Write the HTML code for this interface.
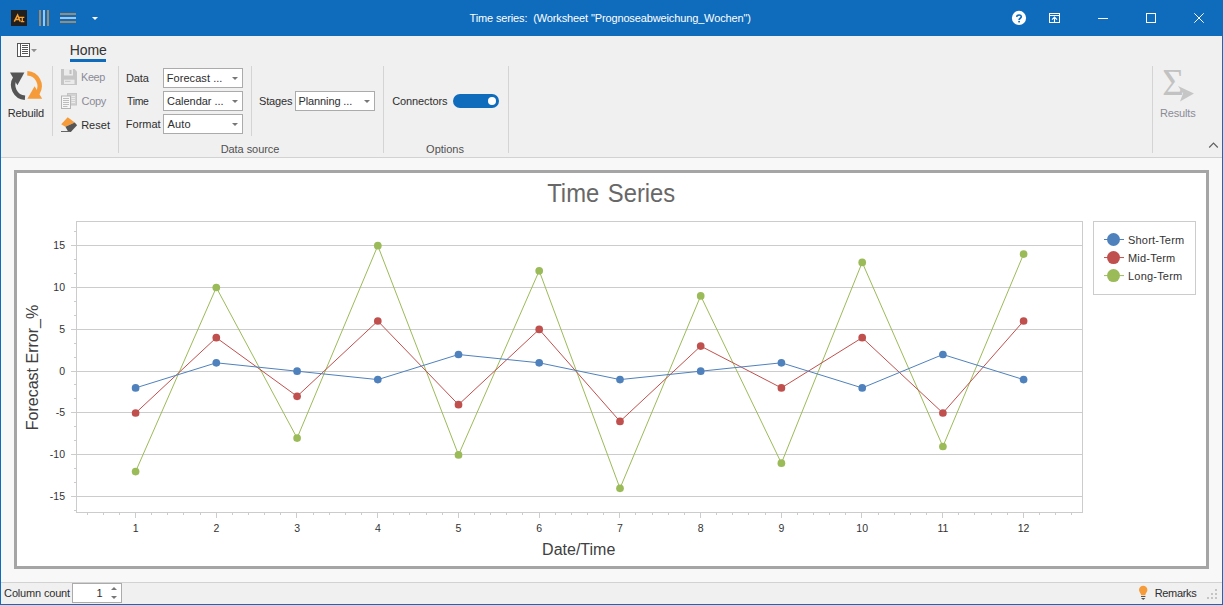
<!DOCTYPE html>
<html><head><meta charset="utf-8"><title>Time series</title>
<style>
html,body{margin:0;padding:0;}
body{width:1223px;height:605px;overflow:hidden;background:#f8f8f8;font-family:"Liberation Sans",sans-serif;font-size:11px;color:#2e2e2e;position:relative;}
.abs{position:absolute;}
.t{position:absolute;white-space:nowrap;line-height:13px;}
.sep{position:absolute;width:1px;background:#d4d4d4;}
.combo{position:absolute;height:18px;width:78px;border:1px solid #ababab;background:#fff;}
.combo span{position:absolute;left:4px;top:3px;line-height:13px;white-space:nowrap;}
.combo i{position:absolute;right:4px;top:8px;width:0;height:0;border-left:3px solid transparent;border-right:3px solid transparent;border-top:3px solid #777;}
svg text{font-family:"Liberation Sans",sans-serif;}
.tk{font-size:10.5px;fill:#333;}
.lg{font-size:11px;fill:#333;letter-spacing:0.2px;}
.ttl{font-size:23.8px;fill:#686868;}
.ax{font-size:16px;fill:#404040;}
.dis{color:#8b8b98;}
</style></head><body>
<!-- title bar -->
<div class="abs" style="left:0;top:0;width:1223px;height:36px;background:#0f6cbd;"></div>
<!-- window borders -->
<div class="abs" style="left:0;top:0;width:1px;height:605px;background:#0f6cbd;"></div>
<div class="abs" style="left:1222px;top:0;width:1px;height:605px;background:#0f6cbd;"></div>
<div class="abs" style="left:0;top:604px;width:1223px;height:1px;background:#0f6cbd;"></div>
<!-- ribbon bg -->
<div class="abs" style="left:1px;top:36px;width:1221px;height:121px;background:#f0f0f0;"></div>
<div class="abs" style="left:1px;top:157px;width:1221px;height:1px;background:#d2d2d2;"></div>
<!-- status bar -->
<div class="abs" style="left:1px;top:582px;width:1221px;height:1px;background:#d2d2d2;"></div>
<div class="abs" style="left:1px;top:583px;width:1221px;height:21px;background:#f0f0f0;"></div>

<!-- title bar content -->
<div class="abs" style="left:11px;top:10px;width:16px;height:16px;background:#22201e;"></div>
<svg class="abs" style="left:11px;top:10px" width="16" height="16" viewBox="11 10 16 16"><path d="M14.3 21.6 L17.6 15 L20.2 21.6 M15.6 19.4 L19.4 19.4" stroke="#f5a030" stroke-width="1.5" fill="none"/><path d="M19 17.4 H24.3 M22.3 17.4 V21.6 M20.8 21.6 H24.3" stroke="#f5a030" stroke-width="1.3" fill="none"/></svg>
<div class="abs" style="left:39px;top:10px;width:2px;height:16px;background:#988c74;"></div>
<div class="abs" style="left:43px;top:10px;width:2px;height:16px;background:#9fc5ea;"></div>
<div class="abs" style="left:47px;top:10px;width:2px;height:16px;background:#988c74;"></div>
<div class="abs" style="left:60px;top:13px;width:16px;height:2px;background:#988c74;"></div>
<div class="abs" style="left:60px;top:17px;width:16px;height:2px;background:#9fc5ea;"></div>
<div class="abs" style="left:60px;top:21px;width:16px;height:2px;background:#988c74;"></div>
<div class="abs" style="left:92px;top:17px;width:0;height:0;border-left:3.5px solid transparent;border-right:3.5px solid transparent;border-top:3.5px solid #fff;"></div>
<div class="t" id="wtitle" style="letter-spacing:-0.130px;margin-left:-0.55px;left:470px;top:12px;color:#fff;white-space:pre;">Time series:  (Worksheet "Prognoseabweichung_Wochen")</div>
<!-- window buttons -->
<svg class="abs" style="left:1005px;top:4px" width="210" height="28" viewBox="1005 4 210 28">
<circle cx="1019" cy="17.9" r="7.1" fill="#fff"/>
<path d="M1016.9 16.9 C1016.7 14.5 1021.3 14.3 1021.3 16.8 C1021.3 18.3 1019.1 18.3 1019.1 20.1" fill="none" stroke="#0f6cbd" stroke-width="1.7"/><rect x="1018.2" y="20.9" width="1.8" height="1.5" fill="#0f6cbd"/>
<rect x="1049.5" y="13.5" width="10" height="9" fill="none" stroke="#fff"/>
<rect x="1050" y="15" width="9" height="1" fill="#fff"/>
<path d="M1054.5 22 V17.3 M1052 19.6 L1054.5 17.1 L1057 19.6" stroke="#fff" fill="none" stroke-width="1.1"/>
<rect x="1098" y="18" width="10" height="1" fill="#fff"/>
<rect x="1146.5" y="13.5" width="9" height="9" fill="none" stroke="#fff"/>
<path d="M1194.3 13.3 L1203.7 22.7 M1203.7 13.3 L1194.3 22.7" stroke="#fff" stroke-width="1"/>
</svg>

<!-- ribbon tab row -->
<svg class="abs" style="left:16px;top:42px" width="24" height="16" viewBox="16 42 24 16">
<rect x="17.5" y="43.5" width="12" height="13" fill="#fff" stroke="#555"/>
<rect x="20" y="44" width="1" height="12" fill="#555"/>
<path d="M22 45.5 H28 M22 47.5 H28 M22 49.5 H28 M22 51.5 H28 M22 53.5 H28" stroke="#555" stroke-width="1"/>
<path d="M31 49 L37 49 L34 52.2 Z" fill="#909090"/>
</svg>
<div class="t" id="home" style="letter-spacing:-0.100px;margin-left:-0.30px;left:70px;top:42px;font-size:14px;line-height:17px;color:#333;">Home</div>
<div class="abs" style="left:70px;top:59px;width:36px;height:3px;background:#0f6cbd;"></div>

<!-- Rebuild -->
<svg class="abs" style="left:9px;top:69px" width="34" height="34" viewBox="9 69 34 34">
<path d="M25 97.8 A12.9 12.9 0 0 1 15.2 78" fill="none" stroke="#555" stroke-width="4.4"/>
<path d="M10 72.5 L24.4 72.5 L17.4 85.2 Z" fill="#555"/>
<path d="M27.3 73.2 A12.9 12.9 0 0 1 37.6 93" fill="none" stroke="#f59b3a" stroke-width="4.4"/>
<path d="M27.4 98.8 L42.2 98.8 L34.6 86.2 Z" fill="#f59b3a"/>
</svg>
<div class="t" id="rebuild" style="letter-spacing:-0.175px;margin-left:-1.18px;left:9px;top:107px;">Rebuild</div>
<div class="sep" style="left:52px;top:66px;height:70px;"></div>

<!-- Keep / Copy / Reset -->
<svg class="abs" style="left:61px;top:69px" width="16" height="16" viewBox="0 0 16 16">
<path d="M0 0 H13.5 L16 2.5 V16 H0 Z" fill="#c6c6c6"/>
<rect x="3" y="0" width="9" height="6.5" fill="#ebebeb"/>
<rect x="8.5" y="1" width="2" height="4" fill="#c0c0c0"/>
<rect x="3" y="10.7" width="10.5" height="4.3" fill="#ebebeb"/>
<rect x="4" y="11.8" width="5.5" height="1" fill="#c6c6c6"/>
</svg>
<div class="t dis" id="keep" style="letter-spacing:-0.350px;margin-left:-0.88px;transform:scaleX(0.9861);transform-origin:0 0;left:82px;top:71px;">Keep</div>
<svg class="abs" style="left:61px;top:93px" width="16" height="17" viewBox="0 0 16 17">
<rect x="6.5" y="0.5" width="9" height="11.5" fill="#d2d2d2" stroke="#c6c6c6"/>
<path d="M10.5 3.5H14M10.5 5.5H14M10.5 7.5H14M10.5 9.5H14" stroke="#ececec"/>
<rect x="0.5" y="3" width="9" height="12.5" fill="#f6f6f6" stroke="#b4b4b4"/>
<path d="M2 5.5H8M2 7.5H8M2 9.5H8M2 11.5H8M2 13.5H6.5" stroke="#bcbcbc"/>
</svg>
<div class="t dis" id="copy" style="letter-spacing:-0.308px;margin-left:-0.50px;left:82px;top:95px;">Copy</div>
<svg class="abs" style="left:60px;top:116px" width="18" height="18" viewBox="60 116 18 18">
<path d="M67.7 117.2 L74.8 122.4 L65.4 126.8 L61.2 124.2 Z" fill="#f59b3a"/>
<path d="M65.4 126.8 L74.8 122.4 L77.1 125.3 L70.8 131.9 L68.4 131.9 Z" fill="#555"/>
<rect x="61" y="131" width="9.5" height="1" fill="#666"/>
</svg>
<div class="t" id="reset" style="letter-spacing:0.031px;margin-left:-0.88px;left:82px;top:119px;">Reset</div>
<div class="sep" style="left:118px;top:66px;height:87px;"></div>

<!-- Data source -->
<div class="t" id="ldata" style="letter-spacing:-0.092px;margin-left:-1.08px;left:127px;top:72px;">Data</div>
<div class="t" id="ltime" style="letter-spacing:-0.350px;margin-left:-0.35px;transform:scaleX(0.9496);transform-origin:0 0;left:127px;top:95px;">Time</div>
<div class="t" id="lformat" style="letter-spacing:-0.015px;margin-left:-1.17px;left:127px;top:118px;">Format</div>
<div class="combo" style="left:163px;top:68px;"><span id="c1" style="letter-spacing:0.061px;margin-left:-1.28px;">Forecast ...</span><i></i></div>
<div class="combo" style="left:163px;top:91px;"><span id="c2" style="letter-spacing:-0.034px;margin-left:-0.90px;">Calendar ...</span><i></i></div>
<div class="combo" style="left:163px;top:114px;"><span id="c3" style="letter-spacing:0.117px;margin-left:-0.40px;">Auto</span><i></i></div>
<div class="sep" style="left:251px;top:66px;height:70px;"></div>
<div class="t" id="lstages" style="letter-spacing:-0.135px;margin-left:-1.00px;left:260px;top:95px;">Stages</div>
<div class="combo" style="left:295px;top:91px;"><span id="c4" style="letter-spacing:-0.120px;margin-left:-1.48px;">Planning ...</span><i></i></div>
<div class="t" id="gds" style="letter-spacing:-0.050px;margin-left:-0.88px;left:221.5px;top:143px;color:#505050;">Data source</div>
<div class="sep" style="left:383px;top:66px;height:87px;"></div>

<!-- Options -->
<div class="t" id="lconn" style="letter-spacing:-0.108px;margin-left:-0.80px;left:393px;top:95px;">Connectors</div>
<div class="abs" style="left:453px;top:94px;width:46px;height:14px;border-radius:7px;background:#0f6cbd;"></div>
<div class="abs" style="left:488px;top:97px;width:8px;height:8px;border-radius:4px;background:#fff;"></div>
<div class="t" id="gopt" style="letter-spacing:-0.017px;margin-left:-0.90px;left:427px;top:143px;color:#505050;">Options</div>
<div class="sep" style="left:508px;top:66px;height:87px;"></div>

<!-- Results -->
<div class="sep" style="left:1152px;top:66px;height:87px;"></div>
<svg class="abs" style="left:1160px;top:68px" width="36" height="36" viewBox="1160 68 36 36">
<text x="1162.3" y="95" font-family="Liberation Serif" font-size="37.5" fill="#c2c2c2" style="font-family:'Liberation Serif',serif">&#931;</text>
<path d="M1178 86 L1194 93.5 L1180 101.5 L1183 93.5 Z" fill="#c6c6c6"/>
</svg>
<div class="t dis" id="results" style="letter-spacing:-0.162px;margin-left:-1.08px;left:1161px;top:107px;">Results</div>
<svg class="abs" style="left:1208px;top:141px" width="11" height="8" viewBox="0 0 11 8"><path d="M1.2 6.5 L5.5 2.2 L9.8 6.5" stroke="#606060" stroke-width="1.2" fill="none"/></svg>

<!-- chart panel -->
<div class="abs" style="left:14px;top:170px;width:1189px;height:393px;border:3px solid #a5a5a5;background:#fff;"></div>
<svg class="abs" style="left:0;top:0" width="1223" height="605" viewBox="0 0 1223 605">
<rect x="76.5" y="221.5" width="1006" height="291" fill="#fff" stroke="#cccccc" stroke-width="1"/>
<line x1="71" y1="496.5" x2="1082" y2="496.5" stroke="#cccccc" stroke-width="1"/>
<line x1="71" y1="454.5" x2="1082" y2="454.5" stroke="#cccccc" stroke-width="1"/>
<line x1="71" y1="412.5" x2="1082" y2="412.5" stroke="#cccccc" stroke-width="1"/>
<line x1="71" y1="371.5" x2="1082" y2="371.5" stroke="#cccccc" stroke-width="1"/>
<line x1="71" y1="329.5" x2="1082" y2="329.5" stroke="#cccccc" stroke-width="1"/>
<line x1="71" y1="287.5" x2="1082" y2="287.5" stroke="#cccccc" stroke-width="1"/>
<line x1="71" y1="245.5" x2="1082" y2="245.5" stroke="#cccccc" stroke-width="1"/>
<line x1="74" y1="510.5" x2="76" y2="510.5" stroke="#cccccc" stroke-width="1"/>
<line x1="74" y1="482.5" x2="76" y2="482.5" stroke="#cccccc" stroke-width="1"/>
<line x1="74" y1="468.5" x2="76" y2="468.5" stroke="#cccccc" stroke-width="1"/>
<line x1="74" y1="440.5" x2="76" y2="440.5" stroke="#cccccc" stroke-width="1"/>
<line x1="74" y1="426.5" x2="76" y2="426.5" stroke="#cccccc" stroke-width="1"/>
<line x1="74" y1="398.5" x2="76" y2="398.5" stroke="#cccccc" stroke-width="1"/>
<line x1="74" y1="384.5" x2="76" y2="384.5" stroke="#cccccc" stroke-width="1"/>
<line x1="74" y1="357.5" x2="76" y2="357.5" stroke="#cccccc" stroke-width="1"/>
<line x1="74" y1="343.5" x2="76" y2="343.5" stroke="#cccccc" stroke-width="1"/>
<line x1="74" y1="315.5" x2="76" y2="315.5" stroke="#cccccc" stroke-width="1"/>
<line x1="74" y1="301.5" x2="76" y2="301.5" stroke="#cccccc" stroke-width="1"/>
<line x1="74" y1="273.5" x2="76" y2="273.5" stroke="#cccccc" stroke-width="1"/>
<line x1="74" y1="259.5" x2="76" y2="259.5" stroke="#cccccc" stroke-width="1"/>
<line x1="74" y1="231.5" x2="76" y2="231.5" stroke="#cccccc" stroke-width="1"/>
<line x1="135.5" y1="513" x2="135.5" y2="518" stroke="#cccccc" stroke-width="1"/>
<line x1="216.5" y1="513" x2="216.5" y2="518" stroke="#cccccc" stroke-width="1"/>
<line x1="296.5" y1="513" x2="296.5" y2="518" stroke="#cccccc" stroke-width="1"/>
<line x1="377.5" y1="513" x2="377.5" y2="518" stroke="#cccccc" stroke-width="1"/>
<line x1="458.5" y1="513" x2="458.5" y2="518" stroke="#cccccc" stroke-width="1"/>
<line x1="539.5" y1="513" x2="539.5" y2="518" stroke="#cccccc" stroke-width="1"/>
<line x1="619.5" y1="513" x2="619.5" y2="518" stroke="#cccccc" stroke-width="1"/>
<line x1="700.5" y1="513" x2="700.5" y2="518" stroke="#cccccc" stroke-width="1"/>
<line x1="781.5" y1="513" x2="781.5" y2="518" stroke="#cccccc" stroke-width="1"/>
<line x1="861.5" y1="513" x2="861.5" y2="518" stroke="#cccccc" stroke-width="1"/>
<line x1="942.5" y1="513" x2="942.5" y2="518" stroke="#cccccc" stroke-width="1"/>
<line x1="1023.5" y1="513" x2="1023.5" y2="518" stroke="#cccccc" stroke-width="1"/>
<line x1="87.5" y1="513" x2="87.5" y2="515" stroke="#cccccc" stroke-width="1"/>
<line x1="103.5" y1="513" x2="103.5" y2="515" stroke="#cccccc" stroke-width="1"/>
<line x1="119.5" y1="513" x2="119.5" y2="515" stroke="#cccccc" stroke-width="1"/>
<line x1="151.5" y1="513" x2="151.5" y2="515" stroke="#cccccc" stroke-width="1"/>
<line x1="167.5" y1="513" x2="167.5" y2="515" stroke="#cccccc" stroke-width="1"/>
<line x1="183.5" y1="513" x2="183.5" y2="515" stroke="#cccccc" stroke-width="1"/>
<line x1="200.5" y1="513" x2="200.5" y2="515" stroke="#cccccc" stroke-width="1"/>
<line x1="232.5" y1="513" x2="232.5" y2="515" stroke="#cccccc" stroke-width="1"/>
<line x1="248.5" y1="513" x2="248.5" y2="515" stroke="#cccccc" stroke-width="1"/>
<line x1="264.5" y1="513" x2="264.5" y2="515" stroke="#cccccc" stroke-width="1"/>
<line x1="280.5" y1="513" x2="280.5" y2="515" stroke="#cccccc" stroke-width="1"/>
<line x1="313.5" y1="513" x2="313.5" y2="515" stroke="#cccccc" stroke-width="1"/>
<line x1="329.5" y1="513" x2="329.5" y2="515" stroke="#cccccc" stroke-width="1"/>
<line x1="345.5" y1="513" x2="345.5" y2="515" stroke="#cccccc" stroke-width="1"/>
<line x1="361.5" y1="513" x2="361.5" y2="515" stroke="#cccccc" stroke-width="1"/>
<line x1="393.5" y1="513" x2="393.5" y2="515" stroke="#cccccc" stroke-width="1"/>
<line x1="409.5" y1="513" x2="409.5" y2="515" stroke="#cccccc" stroke-width="1"/>
<line x1="426.5" y1="513" x2="426.5" y2="515" stroke="#cccccc" stroke-width="1"/>
<line x1="442.5" y1="513" x2="442.5" y2="515" stroke="#cccccc" stroke-width="1"/>
<line x1="474.5" y1="513" x2="474.5" y2="515" stroke="#cccccc" stroke-width="1"/>
<line x1="490.5" y1="513" x2="490.5" y2="515" stroke="#cccccc" stroke-width="1"/>
<line x1="506.5" y1="513" x2="506.5" y2="515" stroke="#cccccc" stroke-width="1"/>
<line x1="522.5" y1="513" x2="522.5" y2="515" stroke="#cccccc" stroke-width="1"/>
<line x1="555.5" y1="513" x2="555.5" y2="515" stroke="#cccccc" stroke-width="1"/>
<line x1="571.5" y1="513" x2="571.5" y2="515" stroke="#cccccc" stroke-width="1"/>
<line x1="587.5" y1="513" x2="587.5" y2="515" stroke="#cccccc" stroke-width="1"/>
<line x1="603.5" y1="513" x2="603.5" y2="515" stroke="#cccccc" stroke-width="1"/>
<line x1="635.5" y1="513" x2="635.5" y2="515" stroke="#cccccc" stroke-width="1"/>
<line x1="652.5" y1="513" x2="652.5" y2="515" stroke="#cccccc" stroke-width="1"/>
<line x1="668.5" y1="513" x2="668.5" y2="515" stroke="#cccccc" stroke-width="1"/>
<line x1="684.5" y1="513" x2="684.5" y2="515" stroke="#cccccc" stroke-width="1"/>
<line x1="716.5" y1="513" x2="716.5" y2="515" stroke="#cccccc" stroke-width="1"/>
<line x1="732.5" y1="513" x2="732.5" y2="515" stroke="#cccccc" stroke-width="1"/>
<line x1="748.5" y1="513" x2="748.5" y2="515" stroke="#cccccc" stroke-width="1"/>
<line x1="765.5" y1="513" x2="765.5" y2="515" stroke="#cccccc" stroke-width="1"/>
<line x1="797.5" y1="513" x2="797.5" y2="515" stroke="#cccccc" stroke-width="1"/>
<line x1="813.5" y1="513" x2="813.5" y2="515" stroke="#cccccc" stroke-width="1"/>
<line x1="829.5" y1="513" x2="829.5" y2="515" stroke="#cccccc" stroke-width="1"/>
<line x1="845.5" y1="513" x2="845.5" y2="515" stroke="#cccccc" stroke-width="1"/>
<line x1="878.5" y1="513" x2="878.5" y2="515" stroke="#cccccc" stroke-width="1"/>
<line x1="894.5" y1="513" x2="894.5" y2="515" stroke="#cccccc" stroke-width="1"/>
<line x1="910.5" y1="513" x2="910.5" y2="515" stroke="#cccccc" stroke-width="1"/>
<line x1="926.5" y1="513" x2="926.5" y2="515" stroke="#cccccc" stroke-width="1"/>
<line x1="958.5" y1="513" x2="958.5" y2="515" stroke="#cccccc" stroke-width="1"/>
<line x1="974.5" y1="513" x2="974.5" y2="515" stroke="#cccccc" stroke-width="1"/>
<line x1="991.5" y1="513" x2="991.5" y2="515" stroke="#cccccc" stroke-width="1"/>
<line x1="1007.5" y1="513" x2="1007.5" y2="515" stroke="#cccccc" stroke-width="1"/>
<line x1="1039.5" y1="513" x2="1039.5" y2="515" stroke="#cccccc" stroke-width="1"/>
<line x1="1055.5" y1="513" x2="1055.5" y2="515" stroke="#cccccc" stroke-width="1"/>
<line x1="1071.5" y1="513" x2="1071.5" y2="515" stroke="#cccccc" stroke-width="1"/>
<polyline points="135.6,471.6 216.3,287.5 297.1,438.1 377.8,245.7 458.5,454.9 539.2,270.8 620.0,488.3 700.7,295.9 781.4,463.2 862.2,262.4 942.9,446.5 1023.6,254.1" fill="none" stroke="#9bbb59" stroke-width="1"/>
<polyline points="135.6,413.0 216.3,337.7 297.1,396.3 377.8,321.0 458.5,404.7 539.2,329.4 620.0,421.4 700.7,346.1 781.4,387.9 862.2,337.7 942.9,413.0 1023.6,321.0" fill="none" stroke="#c0504d" stroke-width="1"/>
<polyline points="135.6,387.9 216.3,362.8 297.1,371.2 377.8,379.6 458.5,354.5 539.2,362.8 620.0,379.6 700.7,371.2 781.4,362.8 862.2,387.9 942.9,354.5 1023.6,379.6" fill="none" stroke="#4f81bd" stroke-width="1"/>
<circle cx="135.6" cy="471.6" r="3.85" fill="#9bbb59"/>
<circle cx="216.3" cy="287.5" r="3.85" fill="#9bbb59"/>
<circle cx="297.1" cy="438.1" r="3.85" fill="#9bbb59"/>
<circle cx="377.8" cy="245.7" r="3.85" fill="#9bbb59"/>
<circle cx="458.5" cy="454.9" r="3.85" fill="#9bbb59"/>
<circle cx="539.2" cy="270.8" r="3.85" fill="#9bbb59"/>
<circle cx="620.0" cy="488.3" r="3.85" fill="#9bbb59"/>
<circle cx="700.7" cy="295.9" r="3.85" fill="#9bbb59"/>
<circle cx="781.4" cy="463.2" r="3.85" fill="#9bbb59"/>
<circle cx="862.2" cy="262.4" r="3.85" fill="#9bbb59"/>
<circle cx="942.9" cy="446.5" r="3.85" fill="#9bbb59"/>
<circle cx="1023.6" cy="254.1" r="3.85" fill="#9bbb59"/>
<circle cx="135.6" cy="413.0" r="3.85" fill="#c0504d"/>
<circle cx="216.3" cy="337.7" r="3.85" fill="#c0504d"/>
<circle cx="297.1" cy="396.3" r="3.85" fill="#c0504d"/>
<circle cx="377.8" cy="321.0" r="3.85" fill="#c0504d"/>
<circle cx="458.5" cy="404.7" r="3.85" fill="#c0504d"/>
<circle cx="539.2" cy="329.4" r="3.85" fill="#c0504d"/>
<circle cx="620.0" cy="421.4" r="3.85" fill="#c0504d"/>
<circle cx="700.7" cy="346.1" r="3.85" fill="#c0504d"/>
<circle cx="781.4" cy="387.9" r="3.85" fill="#c0504d"/>
<circle cx="862.2" cy="337.7" r="3.85" fill="#c0504d"/>
<circle cx="942.9" cy="413.0" r="3.85" fill="#c0504d"/>
<circle cx="1023.6" cy="321.0" r="3.85" fill="#c0504d"/>
<circle cx="135.6" cy="387.9" r="3.85" fill="#4f81bd"/>
<circle cx="216.3" cy="362.8" r="3.85" fill="#4f81bd"/>
<circle cx="297.1" cy="371.2" r="3.85" fill="#4f81bd"/>
<circle cx="377.8" cy="379.6" r="3.85" fill="#4f81bd"/>
<circle cx="458.5" cy="354.5" r="3.85" fill="#4f81bd"/>
<circle cx="539.2" cy="362.8" r="3.85" fill="#4f81bd"/>
<circle cx="620.0" cy="379.6" r="3.85" fill="#4f81bd"/>
<circle cx="700.7" cy="371.2" r="3.85" fill="#4f81bd"/>
<circle cx="781.4" cy="362.8" r="3.85" fill="#4f81bd"/>
<circle cx="862.2" cy="387.9" r="3.85" fill="#4f81bd"/>
<circle cx="942.9" cy="354.5" r="3.85" fill="#4f81bd"/>
<circle cx="1023.6" cy="379.6" r="3.85" fill="#4f81bd"/>
<text x="65" y="500.0" text-anchor="end" class="tk">-15</text>
<text x="65" y="458.2" text-anchor="end" class="tk">-10</text>
<text x="65" y="416.3" text-anchor="end" class="tk">-5</text>
<text x="65" y="374.5" text-anchor="end" class="tk">0</text>
<text x="65" y="332.7" text-anchor="end" class="tk">5</text>
<text x="65" y="290.8" text-anchor="end" class="tk">10</text>
<text x="65" y="249.0" text-anchor="end" class="tk">15</text>
<text x="135.6" y="532" text-anchor="middle" class="tk">1</text>
<text x="216.3" y="532" text-anchor="middle" class="tk">2</text>
<text x="297.1" y="532" text-anchor="middle" class="tk">3</text>
<text x="377.8" y="532" text-anchor="middle" class="tk">4</text>
<text x="458.5" y="532" text-anchor="middle" class="tk">5</text>
<text x="539.2" y="532" text-anchor="middle" class="tk">6</text>
<text x="620.0" y="532" text-anchor="middle" class="tk">7</text>
<text x="700.7" y="532" text-anchor="middle" class="tk">8</text>
<text x="781.4" y="532" text-anchor="middle" class="tk">9</text>
<text x="862.2" y="532" text-anchor="middle" class="tk">10</text>
<text x="942.9" y="532" text-anchor="middle" class="tk">11</text>
<text x="1023.6" y="532" text-anchor="middle" class="tk">12</text>
<rect x="1093.5" y="221.5" width="102" height="73" fill="#fff" stroke="#cccccc"/>
<line x1="1104" y1="239.5" x2="1124" y2="239.5" stroke="#4f81bd" stroke-width="1"/>
<circle cx="1113.5" cy="239.5" r="6.5" fill="#4f81bd"/>
<text x="1128" y="243.5" class="lg">Short-Term</text>
<line x1="1104" y1="257.55" x2="1124" y2="257.55" stroke="#c0504d" stroke-width="1"/>
<circle cx="1113.5" cy="257.55" r="6.5" fill="#c0504d"/>
<text x="1128" y="261.6" class="lg">Mid-Term</text>
<line x1="1104" y1="275.6" x2="1124" y2="275.6" stroke="#9bbb59" stroke-width="1"/>
<circle cx="1113.5" cy="275.6" r="6.5" fill="#9bbb59"/>
<text x="1128" y="279.6" class="lg">Long-Term</text>
<text transform="translate(611.2,202) scale(1,1.05)" text-anchor="middle" class="ttl">Time<tspan dx="2"> Series</tspan></text>
<text x="578.7" y="554.7" text-anchor="middle" class="ax">Date/Time</text>
<text transform="translate(37.5,367.5) rotate(-90)" text-anchor="middle" class="ax">Forecast Error_%</text>
</svg>

<!-- status bar content -->
<div class="t" id="colcount" style="letter-spacing:-0.170px;margin-left:-0.90px;left:5px;top:587px;">Column count</div>
<div class="abs" style="left:72px;top:583px;width:48px;height:18px;border:1px solid #ababab;background:#fff;"></div>
<div class="t" style="left:96.5px;top:587px;">1</div>
<div class="abs" style="left:111px;top:587px;width:0;height:0;border-left:3px solid transparent;border-right:3px solid transparent;border-bottom:3px solid #777;"></div>
<div class="abs" style="left:111px;top:596px;width:0;height:0;border-left:3px solid transparent;border-right:3px solid transparent;border-top:3px solid #777;"></div>
<svg class="abs" style="left:1138px;top:585px" width="11" height="16" viewBox="0 0 11 16">
<path d="M5.2 0.8 A4.2 4.2 0 0 1 9.4 5 C9.4 7 7.6 8 7.2 10.2 H3.2 C2.8 8 1 7 1 5 A4.2 4.2 0 0 1 5.2 0.8 Z" fill="#f59b3a"/>
<rect x="3" y="11" width="4.4" height="1" fill="#555"/><path d="M3 13 H7.4 L5.2 15 Z" fill="#555"/>
</svg>
<div class="t" id="remarks" style="letter-spacing:-0.342px;margin-left:-0.78px;left:1155.5px;top:587px;">Remarks</div>
<svg class="abs" style="left:1206px;top:588px" width="14" height="14" viewBox="0 0 14 14" fill="#c4c4c4">
<rect x="9" y="1" width="2" height="2"/><rect x="5" y="5" width="2" height="2"/><rect x="9" y="5" width="2" height="2"/>
<rect x="1" y="9" width="2" height="2"/><rect x="5" y="9" width="2" height="2"/><rect x="9" y="9" width="2" height="2"/>
</svg>
</body></html>
